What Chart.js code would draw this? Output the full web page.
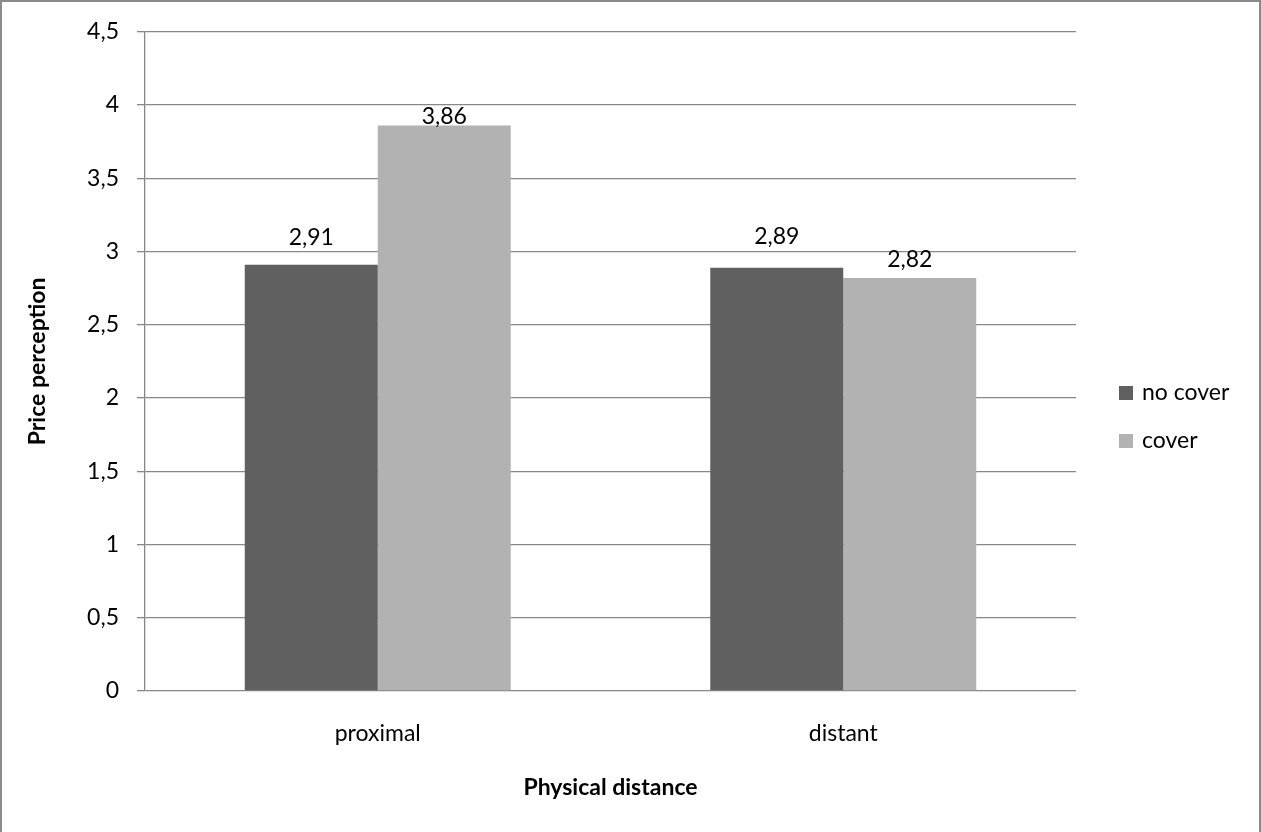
<!DOCTYPE html>
<html>
<head>
<meta charset="utf-8">
<title>Price perception by physical distance</title>
<script src="https://cdn.jsdelivr.net/npm/chart.js@4/dist/chart.umd.min.js"></script>
<style>
  html, body { margin: 0; padding: 0; background: #ffffff; }
  #wrap { width: 1261px; height: 832px; position: relative; }
</style>
</head>
<body>
<div id="wrap"><canvas id="chart" width="1261" height="832"></canvas></div>
<script>
// Chart data
const categories = ['proximal', 'distant'];
const seriesNames = ['no cover', 'cover'];
const noCover = [2.91, 2.89];
const cover = [3.86, 2.82];
const yTickLabels = ['0', '0,5', '1', '1,5', '2', '2,5', '3', '3,5', '4', '4,5'];

const FONT = 'Lato, "Open Sans", "Noto Sans", sans-serif';
const FS = 23;
const DARK = '#606060';
const LIGHT = '#b2b2b2';
const GRID = '#888888';

const fmt = v => v.toFixed(2).replace('.', ',');

// Value labels above each bar, outer frame and right-hand legend
const decorations = {
  id: 'decorations',
  afterDatasetsDraw(chart, args, opts) {
    const ctx = chart.ctx;
    ctx.save();
    ctx.font = FS + 'px ' + FONT;
    ctx.fillStyle = '#000000';
    ctx.textAlign = 'center';
    ctx.textBaseline = 'alphabetic';
    chart.data.datasets.forEach((ds, di) => {
      const meta = chart.getDatasetMeta(di);
      meta.data.forEach((bar, i) => {
        const gap = opts.labelGaps[di][i];
        ctx.fillText(fmt(ds.data[i]), bar.x, bar.y - gap);
      });
    });
    ctx.restore();
  },
  afterDraw(chart, args, opts) {
    const ctx = chart.ctx;
    ctx.save();
    // legend
    ctx.font = FS + 'px ' + FONT;
    ctx.textAlign = 'left';
    ctx.textBaseline = 'middle';
    chart.data.datasets.forEach((ds, i) => {
      const y = opts.legendTop + i * opts.legendStep;
      ctx.fillStyle = ds.backgroundColor;
      ctx.fillRect(opts.legendX, y - 7, 14, 14);
      ctx.fillStyle = '#000000';
      ctx.fillText(ds.label, opts.legendX + 23, y);
    });
    // outer frame
    ctx.strokeStyle = '#8a8a8a';
    ctx.lineWidth = 2;
    ctx.strokeRect(1, 1, chart.width - 2, chart.height + 10);
    ctx.restore();
  }
};

new Chart(document.getElementById('chart'), {
  type: 'bar',
  data: {
    labels: categories,
    datasets: [
      { label: seriesNames[0], data: noCover, backgroundColor: DARK },
      { label: seriesNames[1], data: cover, backgroundColor: LIGHT }
    ]
  },
  options: {
    responsive: false,
    animation: false,
    devicePixelRatio: 1,
    layout: { padding: { left: 0, top: 28, right: 185, bottom: 0 } },
    datasets: { bar: { categoryPercentage: 0.5714, barPercentage: 1.0, borderWidth: 0 } },
    plugins: {
      legend: { display: false },
      tooltip: { enabled: false },
      decorations: {
        labelGaps: [[20, 24], [2, 11]],
        legendX: 1119,
        legendTop: 393,
        legendStep: 48
      }
    },
    scales: {
      x: {
        grid: { display: false, drawTicks: false },
        border: { display: false },
        ticks: { color: '#000000', font: { family: FONT, size: FS }, padding: 29 },
        title: {
          display: true,
          text: 'Physical distance',
          color: '#000000',
          font: { family: FONT, size: FS, weight: 'bold' },
          padding: { top: 0, bottom: 31 }
        },
        afterFit(scale) { scale.height = 141; }
      },
      y: {
        min: 0,
        max: 4.5,
        ticks: {
          stepSize: 0.5,
          color: '#000000',
          font: { family: FONT, size: FS },
          padding: 18,
          callback: (v, i) => yTickLabels[i]
        },
        grid: { color: GRID, lineWidth: 1.3, tickLength: 8, drawTicks: true },
        border: { display: true, color: GRID, width: 1.3 },
        title: {
          display: true,
          text: 'Price perception',
          color: '#000000',
          font: { family: FONT, size: FS, weight: 'bold' },
          padding: { top: 24, bottom: 0 }
        },
        afterFit(scale) { scale.width = 145; }
      }
    }
  },
  plugins: [decorations]
});
</script>
</body>
</html>
